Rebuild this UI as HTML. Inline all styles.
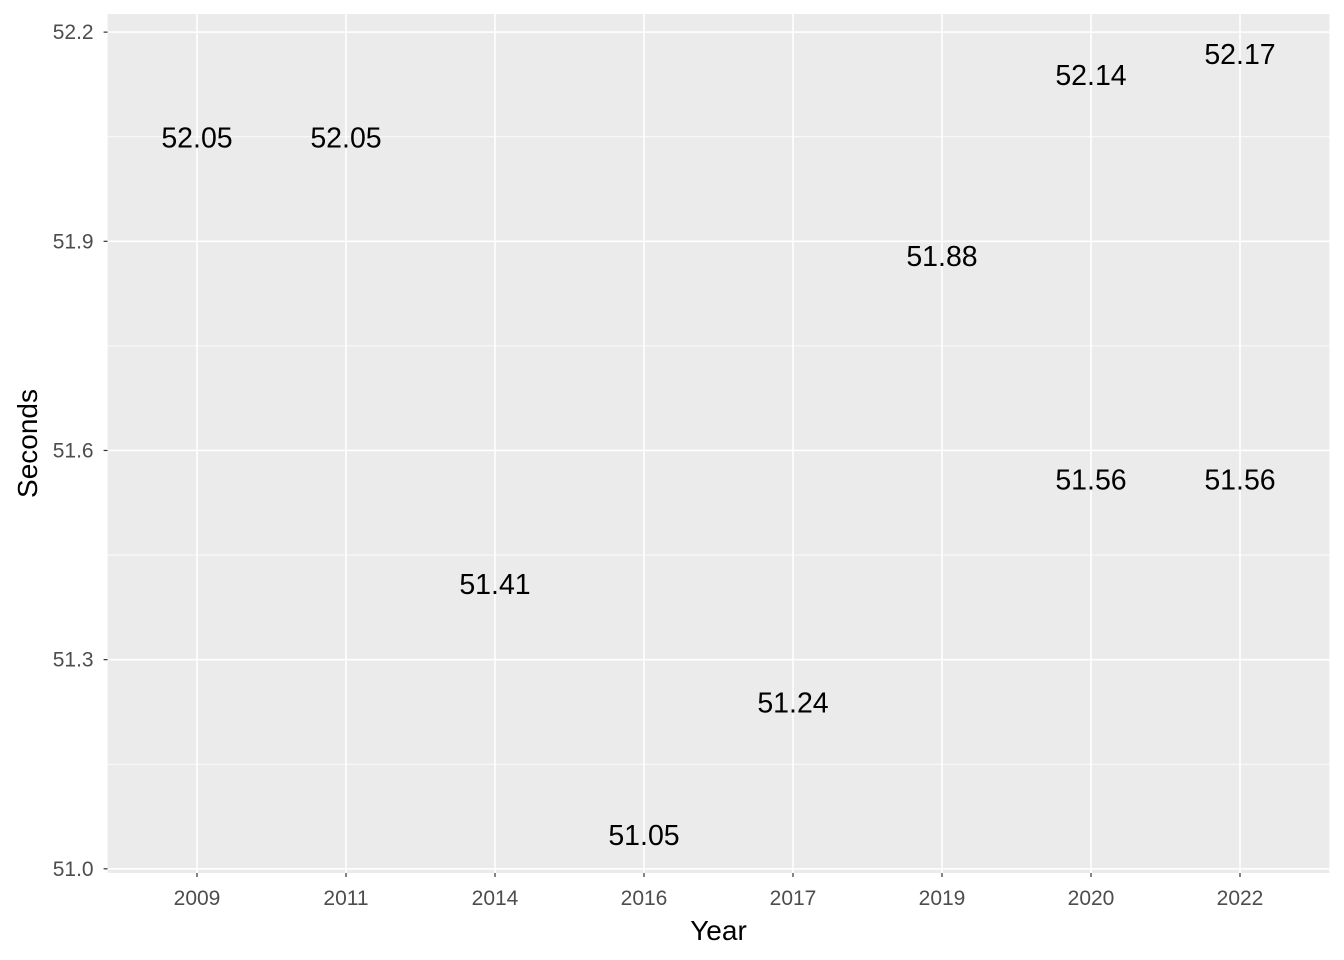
<!DOCTYPE html>
<html><head><meta charset="utf-8"><style>
html,body{margin:0;padding:0;background:#fff;}
svg{display:block;font-family:"Liberation Sans",Arial,sans-serif;}
</style></head><body>
<svg id="chart" width="1344" height="960"></svg>
<script>
const years = ["2009","2011","2014","2016","2017","2019","2020","2022","2020","2022"];
const seconds = [52.05,52.05,51.41,51.05,51.24,51.88,52.14,52.17,51.56,51.56];
const categories = ["2009","2011","2014","2016","2017","2019","2020","2022"];
const yTicks = [51.0,51.3,51.6,51.9,52.2];
const yMinor = [51.15,51.45,51.75,52.05];

const NS="http://www.w3.org/2000/svg";
const svg=document.getElementById('chart');
const L=107.6,R=1329.4,T=14,B=873;
const yMin=50.994,yMax=52.226;
const step=(R-L)/(categories.length-1+1.2);
function xs(c){return L+step*(0.6+categories.indexOf(c));}
function ys(v){return B-(v-yMin)/(yMax-yMin)*(B-T);}
function mk(tag,attrs,parent){const e=document.createElementNS(NS,tag);for(const k in attrs)e.setAttribute(k,attrs[k]);(parent||svg).appendChild(e);return e;}

const panel=mk('rect',{x:L,y:T,width:R-L,height:B-T,fill:'#ebebeb'});



yMinor.forEach(v=>{
  const l=mk('line',{x1:L,x2:R,y1:ys(v),y2:ys(v),stroke:'#fff','stroke-width':0.8});
  
  
});
yTicks.forEach(v=>{
  const y=ys(v);
  const l=mk('line',{x1:L,x2:R,y1:y,y2:y,stroke:'#fff','stroke-width':1.6});
  
  
  const t=mk('line',{x1:L-4,x2:L,y1:y,y2:y,stroke:'#333','stroke-width':1.2});
  
  
  const tx=mk('text',{x:L-14,y:y+7,'text-anchor':'end','font-size':21,fill:'#4d4d4d'});
  tx.textContent=v.toFixed(1);
  
  
});
categories.forEach(c=>{
  const x=xs(c);
  const l=mk('line',{x1:x,x2:x,y1:T,y2:B,stroke:'#fff','stroke-width':1.6});
  
  
  const t=mk('line',{x1:x,x2:x,y1:B,y2:B+4,stroke:'#333','stroke-width':1.2});
  
  
  const tx=mk('text',{x:x,y:B+32,'text-anchor':'middle','font-size':21,fill:'#4d4d4d'});
  tx.textContent=c;
  
  
});
years.forEach((c,i)=>{
  const tx=mk('text',{x:xs(c),y:ys(seconds[i])+11,'text-anchor':'middle','font-size':28.5,fill:'#000'});
  tx.textContent=seconds[i].toFixed(2);
  
  
});
const xt=mk('text',{x:(L+R)/2,y:940,'text-anchor':'middle','font-size':28,fill:'#000'});
xt.textContent='Year';


const yt=mk('text',{x:0,y:0,'text-anchor':'middle','font-size':28,fill:'#000',transform:`translate(37,${(T+B)/2}) rotate(-90)`});
yt.textContent='Seconds';


</script>
</body></html>
